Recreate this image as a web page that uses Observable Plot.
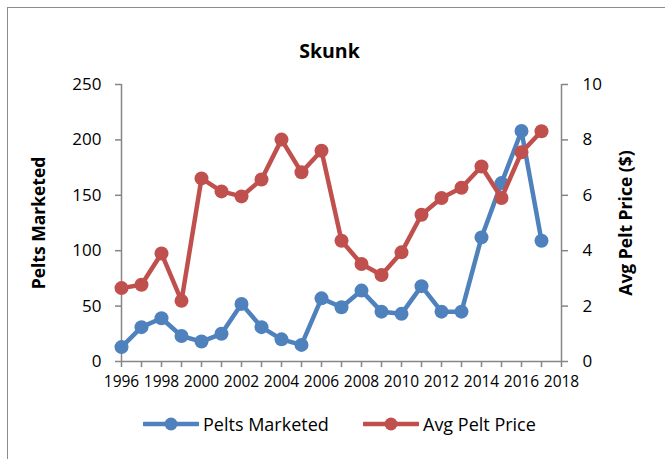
<!DOCTYPE html>
<html>
<head>
<meta charset="utf-8">
<script src="https://cdn.jsdelivr.net/npm/d3@7"></script>
<script src="https://cdn.jsdelivr.net/npm/@observablehq/plot@0.6"></script>
<style>
  html, body { margin: 0; padding: 0; background: #fff; overflow: hidden; }
  #wrap { position: relative; width: 665px; height: 459px; font-family: "Open Sans", sans-serif; }
  #border { position: absolute; left: 7px; top: 7px; width: 720px; height: 520px;
            border-left: 1.5px solid #8c8c8c; border-top: 1.5px solid #8c8c8c; }
  #legend { position: absolute; top: 410px; left: 0; width: 665px; height: 28px; font-size: 18px; color: #000; }
  .item { position: absolute; top: 0; display: flex; align-items: center; height: 28px; }
  .item svg { margin-right: 4px; }
  svg.plot { position: absolute; left: 0; top: 0; }
</style>
</head>
<body>
<div id="wrap"><div id="border"></div></div>
<script>
const years = [1996,1997,1998,1999,2000,2001,2002,2003,2004,2005,2006,2007,2008,2009,2010,2011,2012,2013,2014,2015,2016,2017];
const peltsMarketed = [13,31,39,23,18,25,52,31,20,15,57,49,64,45,43,68,45,45,112,161,208,109];
const avgPeltPrice = [2.65,2.77,3.9,2.19,6.61,6.14,5.96,6.57,8.01,6.83,7.61,4.36,3.52,3.12,3.94,5.3,5.9,6.27,7.04,5.9,7.55,8.31];
const leftTicks = [0,50,100,150,200,250];
const rightTicks = [0,2,4,6,8,10];
const xTickYears = d3.range(1996, 2019, 1);
const xLabelYears = d3.range(1996, 2019, 2);
const title = "Skunk";
const seriesNames = ["Pelts Marketed", "Avg Pelt Price"];
const axisTitles = ["Pelts Marketed", "Avg Pelt Price ($)"];
const colors = ["#4F81BD", "#C0504D"];
const leftMax = 250, rightMax = 10;
const ratio = leftMax / rightMax;

const rows = years.map((y, i) => ({year: y, pelts: peltsMarketed[i], price: avgPeltPrice[i]}));
const gray = "#868686";
const font = "Open Sans";

const chart = Plot.plot({
  width: 665,
  height: 459,
  marginLeft: 121,
  marginRight: 104,
  marginTop: 84,
  marginBottom: 98,
  style: {fontFamily: font, background: "transparent", overflow: "visible"},
  x: {domain: [1996, 2018], axis: null},
  y: {domain: [0, leftMax], axis: null},
  marks: [
    Plot.axisX({ticks: xTickYears, tickSize: 6, tickFormat: () => "", stroke: gray, strokeWidth: 1.5, label: null}),
    Plot.axisX({ticks: xLabelYears, tickSize: 0, tickPadding: 14, tickFormat: d => String(d), fontSize: 15.5, fill: "#000", fontFamily: font, label: null}),
    Plot.axisY({anchor: "left", ticks: leftTicks, tickSize: 6, tickPadding: 14, tickFormat: d => String(d), fontSize: 17, fill: "#000", stroke: gray, strokeWidth: 1.5, fontFamily: font, label: null}),
    Plot.axisY({anchor: "right", ticks: rightTicks.map(v => v * ratio), tickSize: 6, tickPadding: 15, tickFormat: d => String(d / ratio), fontSize: 17, fill: "#000", stroke: gray, strokeWidth: 1.5, fontFamily: font, label: null}),
    Plot.ruleX([1996, 2018], {stroke: gray, strokeWidth: 1.5}),
    Plot.ruleY([0], {stroke: gray, strokeWidth: 1.5}),
    Plot.line(rows, {x: "year", y: "pelts", stroke: colors[0], strokeWidth: 4.5}),
    Plot.dot(rows, {x: "year", y: "pelts", r: 7, fill: colors[0]}),
    Plot.line(rows, {x: "year", y: d => d.price * ratio, stroke: colors[1], strokeWidth: 4.5}),
    Plot.dot(rows, {x: "year", y: d => d.price * ratio, r: 7, fill: colors[1]}),
    Plot.text([axisTitles[0]], {frameAnchor: "left", textAnchor: "middle", dx: -82, rotate: -90, fontWeight: "bold", fontSize: 17.5, fill: "#000", fontFamily: font}),
    Plot.text([axisTitles[1]], {frameAnchor: "right", textAnchor: "middle", dx: 65, rotate: -90, fontWeight: "bold", fontSize: 17.5, fill: "#000", fontFamily: font}),
    Plot.text([title], {frameAnchor: "top", dx: -12, dy: -40, fontWeight: "bold", fontSize: 19.5, fill: "#000", fontFamily: font})
  ]
});
chart.classList.add("plot");
document.getElementById("wrap").appendChild(chart);

const legend = document.createElement("div");
legend.id = "legend";
const lefts = [143, 363];
seriesNames.forEach((name, i) => {
  const item = document.createElement("div");
  item.className = "item";
  item.style.left = lefts[i] + "px";
  item.innerHTML = `<svg width="56" height="16"><line x1="1" y1="8" x2="55" y2="8" stroke="${colors[i]}" stroke-width="4.5" stroke-linecap="round"/><circle cx="28" cy="8" r="6.5" fill="${colors[i]}"/></svg><span>${name}</span>`;
  legend.appendChild(item);
});
document.getElementById("wrap").appendChild(legend);
</script>
</body>
</html>
